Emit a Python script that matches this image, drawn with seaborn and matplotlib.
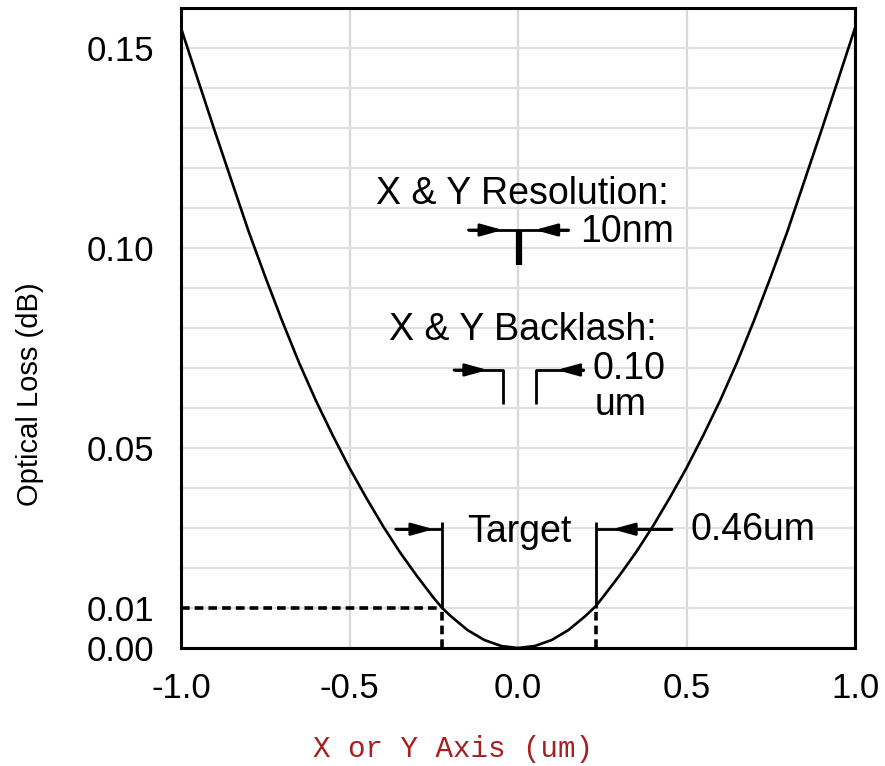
import matplotlib
matplotlib.use("Agg")
import matplotlib.pyplot as plt
from matplotlib.ticker import MultipleLocator
import seaborn as sns
import pandas as pd

# curve
offset_um = [-1.0, -0.95, -0.9, -0.85, -0.8, -0.75, -0.7, -0.65, -0.6, -0.55, -0.5, -0.45, -0.4,
             -0.35, -0.3, -0.25, -0.225, -0.2, -0.15, -0.1, -0.05, 0.0,
             0.05, 0.1, 0.15, 0.2, 0.23, 0.25, 0.3, 0.35, 0.4, 0.45, 0.5,
             0.55, 0.6, 0.65, 0.7, 0.75, 0.8, 0.85, 0.9, 0.95, 1.0]
loss_db = [0.155, 0.1421, 0.1293, 0.1168, 0.1043, 0.0928, 0.0818, 0.0714, 0.0619, 0.0532, 0.045,
           0.0375, 0.0304, 0.0239, 0.018, 0.0125, 0.010, 0.008, 0.0045, 0.002, 0.0005, 0.0,
           0.0005, 0.002, 0.0045, 0.008, 0.0104, 0.0125, 0.018, 0.0239, 0.0304, 0.0375, 0.045,
           0.0532, 0.0619, 0.0714, 0.0818, 0.0928, 0.1043, 0.1168, 0.1293, 0.1421, 0.155]

x_ticks = [-1.0, -0.5, 0.0, 0.5, 1.0]
x_labels = ["-1.0", "-0.5", "0.0", "0.5", "1.0"]
y_ticks = [0.0, 0.01, 0.05, 0.10, 0.15]
y_labels = ["0.00", "0.01", "0.05", "0.10", "0.15"]
target_x = [-0.225, 0.23]
target_loss = 0.01

df = pd.DataFrame({"x": offset_um, "loss": loss_db})

sns.set_style("white")
plt.rcParams["font.family"] = ["Liberation Sans", "DejaVu Sans"]
plt.rcParams["text.color"] = "black"

fig = plt.figure(figsize=(8.85, 7.66), dpi=100)
ax = fig.add_axes([181 / 885, 118 / 766, 674 / 885, 640 / 766])

sns.lineplot(data=df, x="x", y="loss", color="black", lw=1.9, ax=ax, zorder=5)

ax.set_xlim(-1, 1)
ax.set_ylim(0, 0.16)
ax.set_xticks(x_ticks)
ax.set_xticklabels(x_labels)
ax.set_xticks(target_x, minor=True)
ax.set_yticks(y_ticks)
ax.set_yticklabels(y_labels)
ax.yaxis.set_minor_locator(MultipleLocator(0.01))

ax.grid(False)
ax.xaxis.grid(True, which="major", color="#d8d8d8", lw=1.6)
ax.yaxis.grid(True, which="both", color="#e0e0e0", lw=1.6)
ax.set_axisbelow(True)

ax.tick_params(axis="both", which="major", direction="inout", length=8, width=1.5,
               labelsize=25, colors="black")
ax.tick_params(axis="y", which="major", pad=15)
ax.tick_params(axis="x", which="major", pad=13)
ax.tick_params(axis="x", which="minor", direction="inout", length=8, width=1.5)
ax.tick_params(axis="y", which="minor", length=0)
for s in ax.spines.values():
    s.set_visible(True)
    s.set_color("black")
    s.set_linewidth(2.2)
ax.set_xlabel("")
ax.set_ylabel("")

fig.text(30 / 885, 1 - 394 / 766, "Optical Loss (dB)", rotation=90, ha="center", va="center",
         fontsize=21, color="black")
fig.text(453 / 885, 1 - 749 / 766, "X or Y Axis (um)", ha="center", va="center", fontsize=21,
         color="#a52020", family=["Liberation Mono", "DejaVu Sans Mono"])

lk = dict(color="black", lw=2, solid_capstyle="butt")
dk = dict(color="black", lw=2.6, ls=(0, (2.4, 1.4)))


def arrow(x0, x1, y):
    ax.annotate("", xy=(x1, y), xytext=(x0, y),
                arrowprops=dict(arrowstyle="-|>,head_length=0.9,head_width=0.25", color="black",
                                lw=2, mutation_scale=15, shrinkA=0, shrinkB=0))


# dashed guide at 0.01 dB
ax.plot([-1, target_x[0]], [target_loss, target_loss], **dk)
for tx in target_x:
    ax.plot([tx, tx], [0, target_loss], **dk)
    ax.plot([tx, tx], [target_loss, 0.0316], **lk)

# target arms
ax.plot([-0.363, target_x[0]], [0.0297, 0.0297], **lk)
ax.plot([target_x[1], 0.457], [0.0297, 0.0297], **lk)
arrow(-0.363, -0.25, 0.0297)
arrow(0.457, 0.28, 0.0297)
ax.text(0.005, 0.029, "Target", ha="center", va="center", fontsize=27)
ax.text(0.511, 0.0295, "0.46um", ha="left", va="center", fontsize=27)

# resolution
ax.text(0.013, 0.1135, "X & Y Resolution:", ha="center", va="center", fontsize=27)
ax.plot([-0.147, 0.15], [0.1045, 0.1045], **lk)
arrow(-0.147, -0.045, 0.1045)
arrow(0.15, 0.05, 0.1045)
ax.plot([0.003, 0.003], [0.1045, 0.0958], color="black", lw=4.5, solid_capstyle="butt")
ax.text(0.185, 0.104, "10nm", ha="left", va="center", fontsize=27)

# backlash
ax.text(0.014, 0.0795, "X & Y Backlash:", ha="center", va="center", fontsize=27)
ax.plot([-0.19, -0.045, -0.045], [0.0695, 0.0695, 0.061], **lk)
ax.plot([0.195, 0.052, 0.052], [0.0695, 0.0695, 0.061], **lk)
arrow(-0.19, -0.09, 0.0695)
arrow(0.195, 0.115, 0.0695)
ax.text(0.22, 0.0698, "0.10", ha="left", va="center", fontsize=27)
ax.text(0.227, 0.0607, "um", ha="left", va="center", fontsize=27)

fig.savefig("out.png", dpi=100, facecolor="white")
